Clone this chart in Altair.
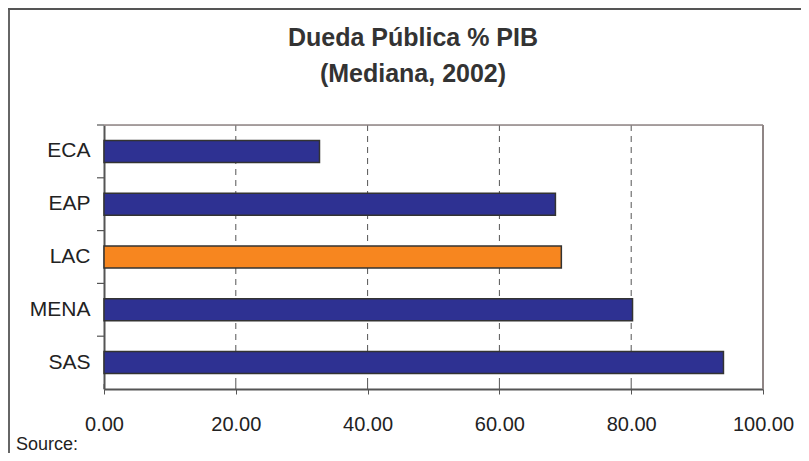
import altair as alt
import pandas as pd

# ---- data ----
regions = ["ECA", "EAP", "LAC", "MENA", "SAS"]
debt_pct_gdp = [32.7, 68.5, 69.4, 80.2, 94.0]
highlight = ["no", "no", "yes", "no", "no"]
x_ticks = [0, 20, 40, 60, 80, 100]
grid_values = [20, 40, 60, 80]
title_lines = ["Dueda Pública % PIB", "(Mediana, 2002)"]
source_text = "Source:"

W, H = 659, 264
FONT = "Liberation Sans"

df = pd.DataFrame({"region": regions, "value": debt_pct_gdp, "hl": highlight})
ticks_df = pd.DataFrame({"value": x_ticks})
grid_df = pd.DataFrame({"value": grid_values})
one = pd.DataFrame({"k": [0]})

x_scale = alt.Scale(domain=[0, 100], nice=False, zero=True)
y_scale = alt.Scale(domain=regions, paddingInner=0, paddingOuter=0)

x_axis = alt.Axis(values=x_ticks, format=".2f", grid=False,
                  tickSize=5, tickColor="#555555",
                  domainColor="#555555", domainWidth=2,
                  labelFontSize=20, labelColor="#222222",
                  labelFont=FONT, labelPadding=20, title=None,
                  labelFlush=False)
y_axis = alt.Axis(ticks=False, domainColor="#555555", domainWidth=2,
                  labelFontSize=21, labelColor="#222222",
                  labelFont=FONT, labelPadding=14, title=None)

bars = alt.Chart(df).mark_bar(
    size=22, stroke="#333333", strokeWidth=1.5
).encode(
    x=alt.X("value:Q", scale=x_scale, axis=x_axis),
    y=alt.Y("region:N", scale=y_scale, sort=regions, axis=y_axis),
    color=alt.Color("hl:N", scale=alt.Scale(domain=["no", "yes"],
                                            range=["#2E3192", "#F7861F"]),
                    legend=None),
)

grid = alt.Chart(grid_df).mark_rule(
    color="#555555", strokeDash=[6, 5], strokeWidth=1
).encode(
    x=alt.X("value:Q", scale=x_scale, title=None),
    y=alt.value(0), y2=alt.value(H),
)

# y ticks at band boundaries
y_ticks = alt.Chart(df).mark_rule(color="#555555", strokeWidth=1.2).encode(
    y=alt.Y("region:N", scale=y_scale, sort=regions, bandPosition=0, title=None),
    x=alt.value(-7), x2=alt.value(0),
)

# inward part of x ticks
x_in_ticks = alt.Chart(ticks_df).mark_rule(color="#555555", strokeWidth=1).encode(
    x=alt.X("value:Q", scale=x_scale, title=None),
    y=alt.value(H - 5), y2=alt.value(H),
)

# plot frame top & right
frame_top = alt.Chart(one).mark_rule(color="#8f8585", strokeWidth=1.5).encode(
    x=alt.value(0), x2=alt.value(W), y=alt.value(0)
)
frame_right = alt.Chart(one).mark_rule(color="#8f8585", strokeWidth=2).encode(
    x=alt.value(W), y=alt.value(0), y2=alt.value(H)
)

# outer chart frame (left & top)
outer_left = alt.Chart(one).mark_rule(color="#666666", strokeWidth=2).encode(
    x=alt.value(-95), y=alt.value(-116), y2=alt.value(H + 70)
)
outer_top = alt.Chart(one).mark_rule(color="#555555", strokeWidth=2).encode(
    x=alt.value(-96), x2=alt.value(W + 40), y=alt.value(-116)
)

source = alt.Chart(one).mark_text(
    text=source_text, align="left", baseline="alphabetic",
    fontSize=18, font=FONT, color="#222222"
).encode(x=alt.value(-88), y=alt.value(325))

title1 = alt.Chart(one).mark_text(
    text=title_lines[0], align="center", baseline="alphabetic",
    fontSize=25, font=FONT, fontWeight="bold", color="#333333"
).encode(x=alt.value(309), y=alt.value(-79))
title2 = alt.Chart(one).mark_text(
    text=title_lines[1], align="center", baseline="alphabetic",
    fontSize=25, font=FONT, fontWeight="bold", color="#333333"
).encode(x=alt.value(309), y=alt.value(-43))

chart = alt.layer(
    grid, bars, y_ticks, x_in_ticks, frame_top, frame_right,
    outer_left, outer_top, source, title1, title2
).properties(
    width=W, height=H,
    autosize=alt.AutoSizeParams(type="none"),
    padding={"left": 96, "top": 117, "right": 38, "bottom": 64},
).configure_view(stroke=None).configure(background="white")

chart.save("out.html", embed_options={"renderer": "svg", "actions": False})
